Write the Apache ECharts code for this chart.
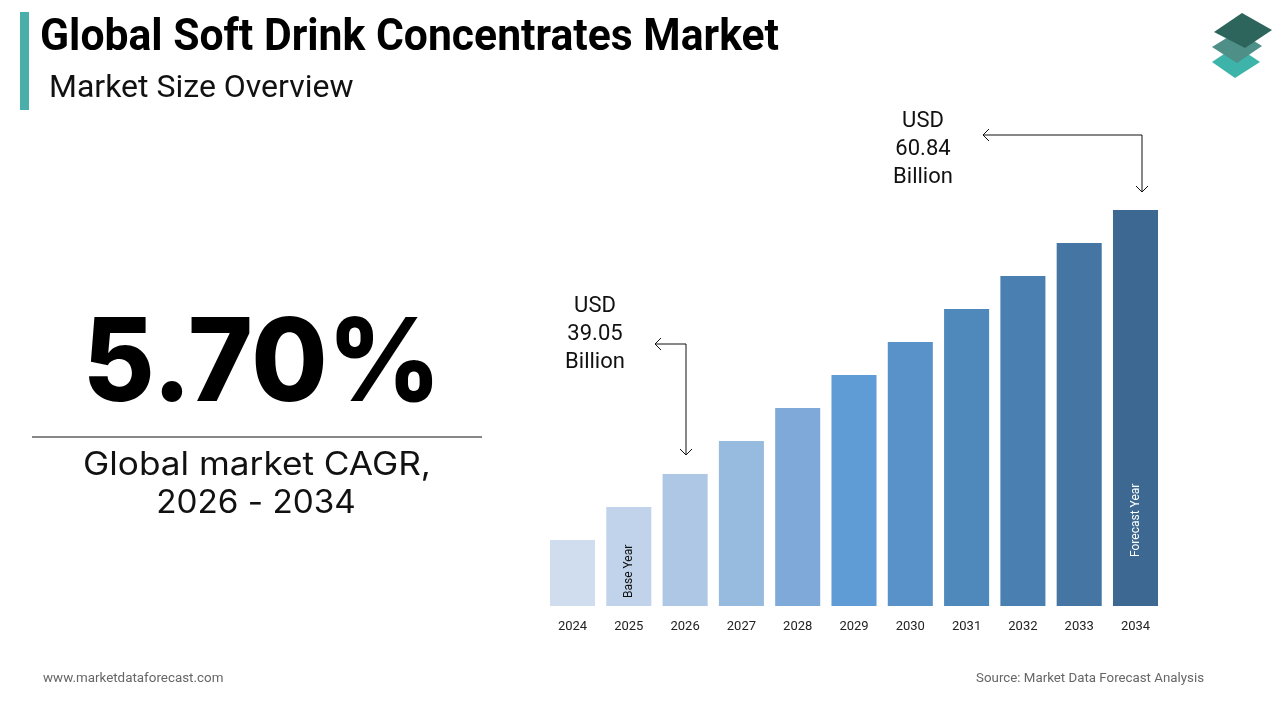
<!DOCTYPE html>
<html>
<head>
<meta charset="utf-8">
<script src="https://cdn.jsdelivr.net/npm/echarts@6/dist/echarts.min.js"></script>
<style>
html,body{margin:0;padding:0;background:#fff;}
#main{width:1280px;height:720px;}
</style>
</head>
<body>
<div id="main"></div>
<script>
const years = ['2024','2025','2026','2027','2028','2029','2030','2031','2032','2033','2034'];
const barValues = [2, 3, 4, 5, 6, 7, 8, 9, 10, 11, 12];
const barColors = ['#d0ddee','#c0d3eb','#adc7e5','#97badf','#7fa9d8','#5f9cd5','#5892c8','#4f89bc','#4a80b1','#4475a3','#3c6891'];
const titleText = 'Global Soft Drink Concentrates Market';
const subtitleText = 'Market Size Overview';
const cagrText = '5.70%';
const cagrCaption = ['Global market CAGR,', '2026 - 2034'];
const startLabel = ['USD', '39.05', 'Billion'];
const endLabel = ['USD', '60.84', 'Billion'];

const chart = echarts.init(document.getElementById('main'), null, {renderer:'canvas'});

const data = barValues.map((v, i) => {
  const item = { value: v, itemStyle: { color: barColors[i] } };
  if (i === 1) {
    item.label = { show: true, formatter: 'Base Year', position: 'insideBottom', distance: 8, rotate: 90, align: 'left', verticalAlign: 'middle', color: '#111', fontSize: 12, fontFamily: 'Roboto' };
  }
  if (i === 10) {
    item.label = { show: true, formatter: 'Forecast Year', position: 'insideBottom', distance: 49, rotate: 90, align: 'left', verticalAlign: 'middle', color: '#fff', fontSize: 12, fontFamily: 'Roboto' };
  }
  return item;
});

function arrowHead(x, y, dir) {
  const s = 6;
  let pts;
  if (dir === 'left') pts = [[x + s, y - s], [x, y], [x + s, y + s]];
  else pts = [[x - s, y - s], [x, y], [x + s, y - s]];
  return { type: 'polyline', shape: { points: pts }, style: { stroke: '#111', lineWidth: 1, fill: null }, silent: true };
}

const graphics = [
  { type: 'rect', shape: { x: 20, y: 12, width: 9, height: 98 }, style: { fill: '#4aaeaa' } },
  { type: 'text', x: 40, y: 39, scaleX: 0.97, style: { text: titleText, font: 'bold 44px Roboto', fill: '#000', verticalAlign: 'middle' } },
  { type: 'text', x: 49, y: 89, scaleX: 1.0, style: { text: subtitleText, font: '32px Roboto', fill: '#111', verticalAlign: 'middle' } },
  // logo (bottom to top)
  { type: 'polygon', shape: { points: [[1212,62],[1236,46],[1260,62],[1235,78]] }, style: { fill: '#3db3aa' } },
  { type: 'polygon', shape: { points: [[1212,47],[1238,31],[1262,46],[1237,63]] }, style: { fill: '#4e8f88' } },
  { type: 'polygon', shape: { points: [[1214,32],[1242,13],[1272,30],[1245,48]] }, style: { fill: '#2d655d' } },
  // left KPI
  { type: 'text', x: 262, y: 366, scaleX: 0.96, style: { text: cagrText, font: '800 115px Inter', fill: '#000', align: 'center', verticalAlign: 'middle' } },
  { type: 'line', shape: { x1: 32, y1: 437, x2: 482, y2: 437 }, style: { stroke: '#111', lineWidth: 1 } },
  { type: 'text', x: 257, y: 465, scaleX: 1.1, style: { text: cagrCaption[0], font: '32px Inter', fill: '#111', align: 'center', verticalAlign: 'middle' } },
  { type: 'text', x: 256, y: 503, scaleX: 1.04, style: { text: cagrCaption[1], font: '32px Inter', fill: '#111', align: 'center', verticalAlign: 'middle' } },
  // value callouts
  { type: 'text', x: 923, y: 149, style: { text: endLabel.join('\n'), font: '22px Roboto', lineHeight: 28, fill: '#111', align: 'center', verticalAlign: 'middle' } },
  { type: 'text', x: 595, y: 334, style: { text: startLabel.join('\n'), font: '22px Roboto', lineHeight: 28, fill: '#111', align: 'center', verticalAlign: 'middle' } },
  { type: 'polyline', shape: { points: [[983,135],[1142,135],[1142,192]] }, style: { stroke: '#111', lineWidth: 1, fill: null } },
  arrowHead(983, 135, 'left'),
  arrowHead(1142, 192, 'down'),
  { type: 'polyline', shape: { points: [[655,344],[686,344],[686,455]] }, style: { stroke: '#111', lineWidth: 1, fill: null } },
  arrowHead(655, 344, 'left'),
  arrowHead(686, 455, 'down'),
  // footer
  { type: 'text', x: 43, y: 679, style: { text: 'www.marketdataforecast.com', font: '13.4px Roboto', fill: '#666', verticalAlign: 'middle' } },
  { type: 'text', x: 1204, y: 679, style: { text: 'Source: Market Data Forecast Analysis', font: '13.3px Roboto', fill: '#666', align: 'right', verticalAlign: 'middle' } }
];

chart.setOption({
  animation: false,
  backgroundColor: '#fff',
  grid: { left: 544.35, right: 116.35, top: 210, bottom: 114, containLabel: false },
  xAxis: {
    type: 'category', data: years,
    axisLine: { show: false }, axisTick: { show: false },
    axisLabel: { color: '#222', fontSize: 13, fontFamily: 'Roboto', margin: 14 }
  },
  yAxis: { type: 'value', min: 0, max: 12, show: false, splitLine: { show: false } },
  series: [{ type: 'bar', data: data, barCategoryGap: '20%' }],
  graphic: graphics
});
</script>
</body>
</html>
